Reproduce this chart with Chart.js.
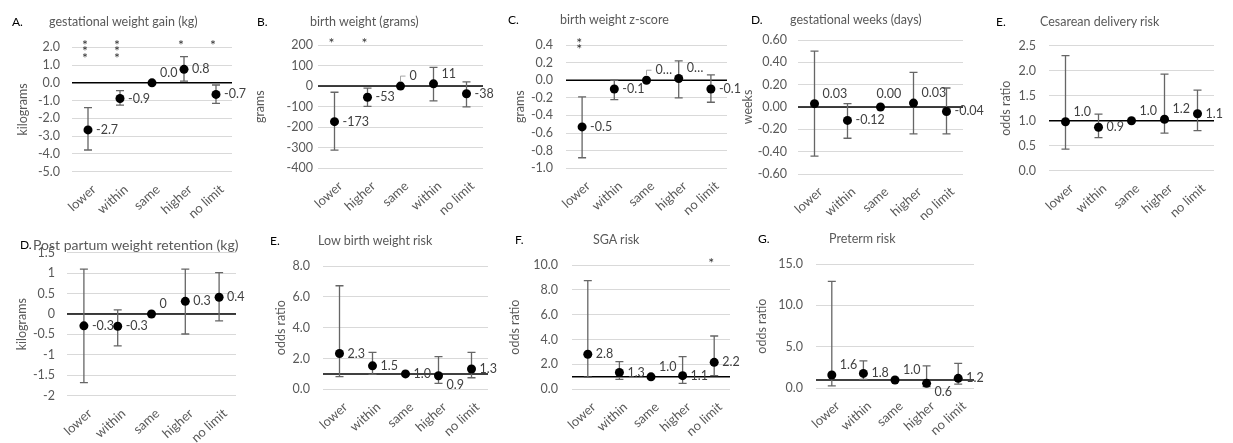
<!DOCTYPE html>
<html lang="en">
<head>
<meta charset="UTF-8">
<title>Gestational weight gain outcomes</title>
<script src="https://cdn.jsdelivr.net/npm/chart.js"></script>
<style>
    body {
        margin: 0;
        width: 1233px;
        height: 443px;
        overflow: hidden;
        position: relative;
        background: #fff;
        font-family: Lato, Arial, sans-serif;
    }
    canvas { position: absolute; }
    .ttl { position: absolute; white-space: nowrap; color: #595959; line-height: 16px; font-size: 12.5px; }
    .ltr { position: absolute; white-space: nowrap; color: #000; line-height: 16px; font-size: 12px; }
</style>
</head>
<body>
<script>
// categories
const catsMain = ['lower', 'within', 'same', 'higher', 'no limit'];
const catsBirth = ['lower', 'higher', 'same', 'within', 'no limit'];

// A. gestational weight gain
const gwgValues = [-2.65, -0.88, 0, 0.76, -0.65];
const gwgLow = [-3.78, -1.25, null, 0.1, -1.15];
const gwgHigh = [-1.40, -0.44, null, 1.47, -0.12];
const gwgLabels = ['-2.7', '-0.9', '0.0', '0.8', '-0.7'];
const gwgStars = [3, 3, 0, 1, 1];

// B. birth weight
const bwValues = [-173, -54, 0, 11, -37];
const bwLow = [-312, -99, null, -72, -101];
const bwHigh = [-30, -10, null, 91, 21];
const bwLabels = ['-173', '-53', '0', '11', '-38'];
const bwStars = [1, 1, 0, 0, 0];

// C. birth weight z-score
const zValues = [-0.53, -0.10, 0, 0.02, -0.10];
const zLow = [-0.88, -0.22, null, -0.20, -0.25];
const zHigh = [-0.19, 0.0, null, 0.22, 0.06];
const zLabels = ['-0.5', '-0.1', '0\u2026', '0\u2026', '-0.1'];
const zStars = [2, 0, 0, 0, 0];

// D. gestational weeks
const gaValues = [0.03, -0.12, 0, 0.035, -0.04];
const gaLow = [-0.44, -0.28, null, -0.24, -0.24];
const gaHigh = [0.50, 0.03, null, 0.31, 0.17];
const gaLabels = ['0.03', '-0.12', '0.00', '0.03', '-0.04'];

// E. cesarean delivery
const csValues = [0.98, 0.87, 1.0, 1.03, 1.14];
const csLow = [0.43, 0.66, null, 0.75, 0.80];
const csHigh = [2.30, 1.13, null, 1.93, 1.61];
const csLabels = ['1.0', '0.9', '1.0', '1.2', '1.1'];

// D. post partum weight retention
const ppValues = [-0.29, -0.3, 0, 0.31, 0.41];
const ppLow = [-1.68, -0.78, null, -0.49, -0.17];
const ppHigh = [1.1, 0.1, null, 1.1, 1.01];
const ppLabels = ['-0.3', '-0.3', '0', '0.3', '0.4'];

// E. low birth weight
const lbwValues = [2.32, 1.52, 1.0, 0.88, 1.32];
const lbwLow = [0.82, 0.97, null, 0.39, 0.75];
const lbwHigh = [6.72, 2.4, null, 2.12, 2.4];
const lbwLabels = ['2.3', '1.5', '1.0', '0.9', '1.3'];

// F. SGA
const sgaValues = [2.82, 1.35, 1.0, 1.1, 2.17];
const sgaLow = [0.97, 0.8, null, 0.48, 1.1];
const sgaHigh = [8.75, 2.22, null, 2.63, 4.29];
const sgaLabels = ['2.8', '1.3', '1.0', '1.1', '2.2'];
const sgaStars = [0, 0, 0, 0, 1];

// G. preterm
const ptValues = [1.6, 1.8, 1.0, 0.6, 1.2];
const ptLow = [0.3, 1.08, null, 0.2, 0.5];
const ptHigh = [12.9, 3.3, null, 2.7, 3.0];
const ptLabels = ['1.6', '1.8', '1.0', '0.6', '1.2'];

const none = [0, 0, 0, 0, 0];

const panels = [
    { letter: 'A.', title: 'gestational weight gain (kg)', letterX: 12, titleX: 49, titleY: 22,
      cats: catsMain, values: gwgValues, low: gwgLow, high: gwgHigh, labels: gwgLabels, stars: gwgStars,
      labelPos: ['r', 'r', 'ar', 'r', 'r'],
      yTitle: 'kilograms', min: -5, max: 2, step: 1, dec: 1, ref: 0, tickPad: 12, yTitleX: 23,
      area: [72, 232, 47.3, 171.7], box: [0, 0, 250, 220] },
    { letter: 'B.', title: 'birth weight (grams)', letterX: 257, titleX: 310, titleY: 22,
      cats: catsBirth, values: bwValues, low: bwLow, high: bwHigh, labels: bwLabels, stars: bwStars,
      labelPos: ['r', 'r', 'lead', 'ar', 'r'],
      yTitle: 'grams', min: -400, max: 200, step: 100, dec: 0, ref: 0, tickPad: 5, yTitleX: 260,
      area: [318, 483, 45, 168.3], box: [245, 0, 250, 220] },
    { letter: 'C.', title: 'birth weight z-score', letterX: 508, titleX: 560, titleY: 20,
      cats: catsMain, values: zValues, low: zLow, high: zHigh, labels: zLabels, stars: zStars,
      labelPos: ['r', 'r', 'lead', 'ar', 'r'],
      yTitle: 'grams', min: -1.0, max: 0.4, step: 0.2, dec: 1, ref: 0, tickPad: 13, yTitleX: 520,
      area: [566, 727, 45, 168.3], box: [490, 0, 255, 220] },
    { letter: 'D.', title: 'gestational weeks (days)', letterX: 751, titleX: 790, titleY: 20,
      cats: catsMain, values: gaValues, low: gaLow, high: gaHigh, labels: gaLabels, stars: none,
      labelPos: ['ar', 'r', 'a', 'ar', 'r'],
      yTitle: 'weeks', min: -0.6, max: 0.6, step: 0.2, dec: 2, ref: 0, tickPad: 11, yTitleX: 748,
      area: [798, 963, 40, 174], box: [735, 0, 255, 220] },
    { letter: 'E.', title: 'Cesarean delivery risk', letterX: 996, titleX: 1040, titleY: 22,
      cats: catsMain, values: csValues, low: csLow, high: csHigh, labels: csLabels, stars: none,
      labelPos: ['ar', 'r', 'ar', 'ar', 'r'],
      yTitle: 'odds ratio', min: 0, max: 2.5, step: 0.5, dec: 1, ref: 1, tickPad: 13, yTitleX: 1006,
      area: [1049, 1214, 45.7, 170.7], box: [983, 0, 250, 220] },
    { letter: 'D.', title: 'Post partum weight retention (kg)', letterX: 20, titleX: 33, titleY: 245, titleSize: 14,
      cats: catsMain, values: ppValues, low: ppLow, high: ppHigh, labels: ppLabels, stars: none,
      labelPos: ['r', 'r', 'ar', 'r', 'r'],
      yTitle: 'kilograms', min: -2, max: 1.5, step: 0.5, dec: null, ref: 0, tickPad: 12, yTitleX: 22,
      area: [67, 236, 252.7, 395.7], box: [0, 220, 255, 223] },
    { letter: 'E.', title: 'Low birth weight risk', letterX: 270, titleX: 318, titleY: 241,
      cats: catsMain, values: lbwValues, low: lbwLow, high: lbwHigh, labels: lbwLabels, stars: none,
      labelPos: ['r', 'r', 'r', 'br', 'r'],
      yTitle: 'odds ratio', min: 0, max: 8, step: 2, dec: 1, ref: 1, tickPad: 13, yTitleX: 281,
      area: [323, 488, 266, 389.3], box: [245, 220, 255, 223] },
    { letter: 'F.', title: 'SGA risk', letterX: 515, titleX: 593, titleY: 240,
      cats: catsMain, values: sgaValues, low: sgaLow, high: sgaHigh, labels: sgaLabels, stars: sgaStars,
      labelPos: ['r', 'r', 'ar', 'r', 'r'],
      yTitle: 'odds ratio', min: 0, max: 10, step: 2, dec: 1, ref: 1, tickPad: 14, yTitleX: 515,
      area: [572, 730, 265, 389.3], box: [490, 220, 255, 223] },
    { letter: 'G.', title: 'Preterm risk', letterX: 758, titleX: 829, titleY: 239,
      cats: catsMain, values: ptValues, low: ptLow, high: ptHigh, labels: ptLabels, stars: none,
      labelPos: ['ar', 'r', 'ar', 'br', 'r'],
      yTitle: 'odds ratio', min: 0, max: 15, step: 5, dec: 1, ref: 1, tickPad: 13, yTitleX: 762,
      area: [816, 974, 264, 388.3], box: [735, 220, 255, 223] }
];

const FONT = 'Lato';
const TXT = 12.5;
const labelOffsets = { r: [8, 0], ar: [8, -10], br: [8, 9], a: [-4, -13], lead: [9, -10] };

// y tick text, avoiding "-0.0" from float noise
function fmtTick(v, dec) {
    if (Math.abs(v) < 1e-9) v = 0;
    return dec == null ? String(+v.toFixed(2)) : v.toFixed(dec);
}

// draws reference line, error bars, data labels and significance stars
function decorPlugin(p) {
    return {
        id: 'decor',
        beforeDatasetsDraw(chart) {
            const { ctx, chartArea, scales: { x, y } } = chart;
            ctx.save();
            const yr = y.getPixelForValue(p.ref);
            ctx.strokeStyle = '#000';
            ctx.lineWidth = 1.5;
            ctx.beginPath();
            ctx.moveTo(chartArea.left, yr);
            ctx.lineTo(chartArea.right, yr);
            ctx.stroke();

            ctx.strokeStyle = '#666';
            ctx.lineWidth = 1.3;
            p.low.forEach((lo, i) => {
                const hi = p.high[i];
                if (lo == null || hi == null) return;
                const px = x.getPixelForValue(i);
                const y1 = y.getPixelForValue(lo), y2 = y.getPixelForValue(hi);
                ctx.beginPath();
                ctx.moveTo(px, y1); ctx.lineTo(px, y2);
                ctx.moveTo(px - 4, y1); ctx.lineTo(px + 4, y1);
                ctx.moveTo(px - 4, y2); ctx.lineTo(px + 4, y2);
                ctx.stroke();
            });
            ctx.restore();
        },
        afterDatasetsDraw(chart) {
            const { ctx, chartArea, scales: { x, y } } = chart;
            ctx.save();
            ctx.font = TXT + 'px ' + FONT;
            ctx.fillStyle = '#404040';
            ctx.textAlign = 'left';
            ctx.textBaseline = 'middle';
            p.labels.forEach((txt, i) => {
                const px = x.getPixelForValue(i), py = y.getPixelForValue(p.values[i]);
                const pos = p.labelPos[i] || 'r';
                const [dx, dy] = labelOffsets[pos];
                if (pos === 'lead') {
                    ctx.strokeStyle = '#a6a6a6';
                    ctx.lineWidth = 1;
                    ctx.beginPath();
                    ctx.moveTo(px, py - 5);
                    ctx.lineTo(px, py - 10);
                    ctx.lineTo(px + 5, py - 10);
                    ctx.stroke();
                }
                ctx.fillText(txt, px + dx, py + dy);
            });

            // significance stars, stacked downwards from the top of the plot
            ctx.font = '14px ' + FONT;
            ctx.fillStyle = '#333';
            ctx.textAlign = 'center';
            ctx.textBaseline = 'alphabetic';
            p.stars.forEach((n, i) => {
                const px = x.getPixelForValue(i) - 3;
                for (let k = 0; k < n; k++) {
                    const cy = chartArea.top - 6 + k * 6.5;
                    ctx.fillText('*', px, cy + 8.5);
                }
            });
            ctx.restore();
        }
    };
}

function addText(cls, text, x, yc, size) {
    const d = document.createElement('div');
    d.className = cls;
    d.textContent = text;
    d.style.left = x + 'px';
    d.style.top = (yc - 8) + 'px';
    if (size) d.style.fontSize = size + 'px';
    document.body.appendChild(d);
}

function makePanel(p) {
    const [bx, by, bw, bh] = p.box;
    const [aL, aR, aT, aB] = p.area;
    const cv = document.createElement('canvas');
    cv.width = bw;
    cv.height = bh;
    cv.style.left = bx + 'px';
    cv.style.top = by + 'px';
    document.body.appendChild(cv);

    const titleOffset = TXT * 1.2 / 2;
    const scaleLeft = p.yTitleX - titleOffset;
    const yW = aL - scaleLeft;
    const xH = by + bh - aB;

    new Chart(cv, {
        type: 'line',
        data: {
            labels: p.cats,
            datasets: [{
                data: p.values,
                showLine: false,
                pointRadius: 4.5,
                pointHoverRadius: 4.5,
                pointBorderWidth: 0,
                pointBackgroundColor: '#000',
                pointBorderColor: '#000'
            }]
        },
        options: {
            responsive: false,
            animation: false,
            events: [],
            layout: { padding: { left: scaleLeft - bx, top: aT - by, right: bx + bw - aR, bottom: 0 } },
            plugins: { legend: { display: false }, tooltip: { enabled: false } },
            scales: {
                x: {
                    offset: true,
                    grid: { display: false },
                    border: { display: false },
                    ticks: {
                        autoSkip: false, minRotation: 42, maxRotation: 42, padding: 2, labelOffset: 6,
                        color: '#595959', font: { family: FONT, size: 13 }
                    },
                    afterFit: s => { s.height = xH; }
                },
                y: {
                    min: p.min,
                    max: p.max,
                    grid: { color: '#d9d9d9', lineWidth: 1, drawTicks: false },
                    border: { display: false },
                    ticks: {
                        autoSkip: false, stepSize: p.step, padding: p.tickPad,
                        color: '#595959', font: { family: FONT, size: TXT },
                        callback: v => fmtTick(v, p.dec)
                    },
                    title: {
                        display: true, text: p.yTitle, color: '#595959', padding: 0,
                        font: { family: FONT, size: TXT }
                    },
                    afterFit: s => { s.width = yW; }
                }
            }
        },
        plugins: [decorPlugin(p)]
    });

    addText('ltr', p.letter, p.letterX, p.titleY);
    addText('ttl', p.title, p.titleX, p.titleY, p.titleSize);
}

panels.forEach(makePanel);
</script>
</body>
</html>
